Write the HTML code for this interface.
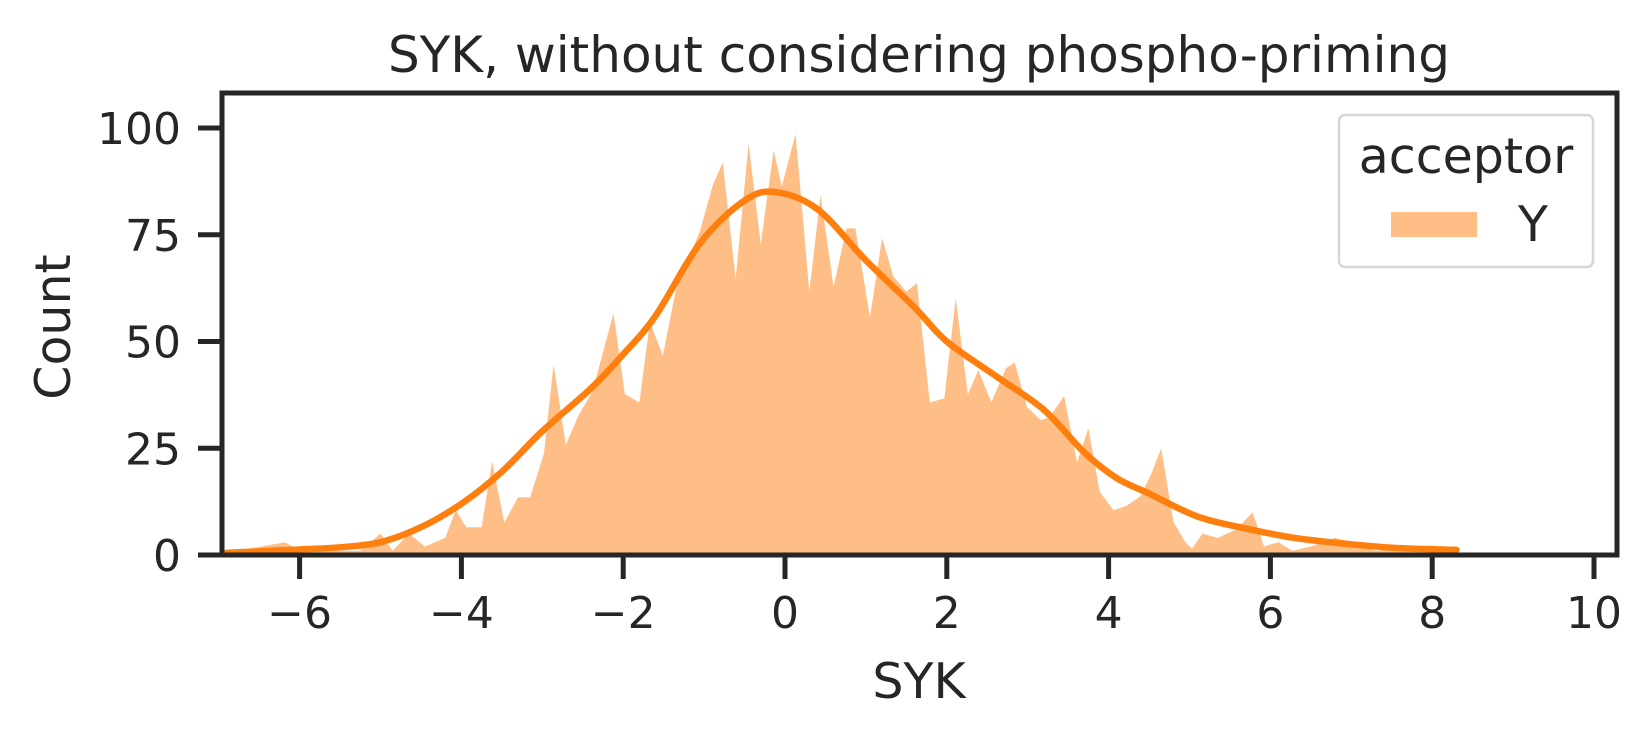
<!DOCTYPE html>
<html><head><meta charset="utf-8">
<style>
html,body{margin:0;padding:0;background:#fff;}
svg text{font-family:"DejaVu Sans","Liberation Sans",sans-serif;fill:#262626;}
</style></head>
<body>
<svg id="chart" width="1646" height="734" viewBox="0 0 1646 734" xmlns="http://www.w3.org/2000/svg">
<text x="919" y="72" font-size="50" text-anchor="middle">SYK, without considering phospho-priming</text>
<g id="plot"></g>
<rect x="222" y="93" width="1395" height="462" fill="none" stroke="#262626" stroke-width="5"/>
<g id="axes"></g>
<text x="919" y="698" font-size="49" text-anchor="middle">SYK</text>
<text transform="translate(70,327) rotate(-90)" font-size="49" text-anchor="middle">Count</text>
<g>
<rect x="1339" y="115" width="254" height="152" rx="6" fill="#fff" stroke="#d6d6d6" stroke-width="2.5"/>
<text x="1466" y="173" font-size="49" text-anchor="middle">acceptor</text>
<rect x="1391" y="212" width="86" height="25" fill="#ffbe86"/>
<text x="1518" y="241" font-size="49">Y</text>
</g>
</svg>
<script>
const binCenters=[-6.9,-6.18,-6.0,-5.6,-5.25,-5.0,-4.85,-4.65,-4.45,-4.2,-4.07,-3.94,-3.75,-3.62,-3.47,-3.30,-3.15,-2.98,-2.86,-2.71,-2.55,-2.38,-2.12,-1.98,-1.80,-1.67,-1.51,-1.35,-1.05,-0.89,-0.77,-0.61,-0.45,-0.30,-0.14,-0.04,0.13,0.30,0.44,0.60,0.76,0.87,1.05,1.20,1.34,1.50,1.63,1.79,1.97,2.11,2.26,2.39,2.55,2.73,2.84,2.99,3.16,3.27,3.45,3.61,3.75,3.89,4.06,4.22,4.39,4.53,4.65,4.80,4.95,5.03,5.16,5.35,5.58,5.78,5.92,6.1,6.27,6.5,6.8,7.0,7.3,7.8,8.3];
const binCounts=[0.5,3,1,1,1,5,1,5,2,4,10.5,6.5,6.5,21.9,7.6,13.5,13.5,23.8,44.6,25.8,32.8,38.3,56.6,37.7,35.7,54.6,46.7,62,76,86.7,91.9,64.6,96.3,72.8,94.8,86.3,98.6,61.7,84.3,62.8,76.5,76.5,55.7,74.2,65.2,61.7,63.6,35.7,36.7,60.1,37.6,43.3,35.7,43.7,45.1,34.7,31.6,32.3,37.2,21.6,29.7,14.8,10.5,11.5,13.7,19.1,25,7.8,3,1.5,5,4,6,10,2,3,1,2,4,3,1,2,1];
const kdeX=[-6.9,-6,-5.5,-5,-4.5,-4,-3.5,-3,-2.4,-2,-1.6,-1.05,-0.5,-0.12,0.4,1,1.6,2,2.6,3.2,3.7,4.1,4.5,5.1,5.7,6.3,7,7.6,8.3];
const kdeY=[0.5,1.3,1.8,3,6.5,12,19.5,29,39,47,56,73,83,85,81,69,58,50,42,34,24,18,14.4,9,6.2,4,2.5,1.6,1.2];
const xTicks=[-6,-4,-2,0,2,4,6,8,10];
const yTicks=[0,25,50,75,100];
const NS="http://www.w3.org/2000/svg";
function sx(v){return 785+v*80.9;}
function sy(v){return 555-v*4.27;}
const plot=document.getElementById('plot');
const axes=document.getElementById('axes');
let d='M'+sx(binCenters[0])+','+sy(0);
for(let i=0;i<binCenters.length;i++){d+=' L'+sx(binCenters[i])+','+sy(binCounts[i]);}
d+=' L'+sx(binCenters[binCenters.length-1])+','+sy(0)+' Z';
const area=document.createElementNS(NS,'path');
area.setAttribute('d',d);area.setAttribute('fill','#ffbe86');


plot.appendChild(area);
const pts=kdeX.map((x,i)=>[sx(x),sy(kdeY[i])]);
let k='M'+pts[0][0]+','+pts[0][1];
for(let i=0;i<pts.length-1;i++){
 const p0=pts[Math.max(0,i-1)],p1=pts[i],p2=pts[i+1],p3=pts[Math.min(pts.length-1,i+2)];
 const c1=[p1[0]+(p2[0]-p0[0])/6,p1[1]+(p2[1]-p0[1])/6];
 const c2=[p2[0]-(p3[0]-p1[0])/6,p2[1]-(p3[1]-p1[1])/6];
 k+=' C'+c1[0]+','+c1[1]+' '+c2[0]+','+c2[1]+' '+p2[0]+','+p2[1];
}
const line=document.createElementNS(NS,'path');
line.setAttribute('d',k);line.setAttribute('fill','none');line.setAttribute('stroke','#ff7f0e');line.setAttribute('stroke-width','6.5');line.setAttribute('stroke-linecap','round');


plot.appendChild(line);
xTicks.forEach(t=>{
 const l=document.createElementNS(NS,'line');
 l.setAttribute('x1',sx(t));l.setAttribute('x2',sx(t));l.setAttribute('y1',555);l.setAttribute('y2',579);l.setAttribute('stroke','#262626');l.setAttribute('stroke-width','5');
 
 
 axes.appendChild(l);
 const tx=document.createElementNS(NS,'text');
 tx.setAttribute('x',sx(t));tx.setAttribute('y',628);tx.setAttribute('font-size','44');tx.setAttribute('text-anchor','middle');
 tx.textContent=(t<0?'\u2212'+Math.abs(t):String(t));
 
 
 axes.appendChild(tx);
});
yTicks.forEach(t=>{
 const l=document.createElementNS(NS,'line');
 l.setAttribute('x1',198);l.setAttribute('x2',222);l.setAttribute('y1',sy(t));l.setAttribute('y2',sy(t));l.setAttribute('stroke','#262626');l.setAttribute('stroke-width','5');
 
 
 axes.appendChild(l);
 const tx=document.createElementNS(NS,'text');
 tx.setAttribute('x',181);tx.setAttribute('y',sy(t)+16);tx.setAttribute('font-size','44');tx.setAttribute('text-anchor','end');
 tx.textContent=String(t);
 
 
 axes.appendChild(tx);
});
</script>
</body></html>
